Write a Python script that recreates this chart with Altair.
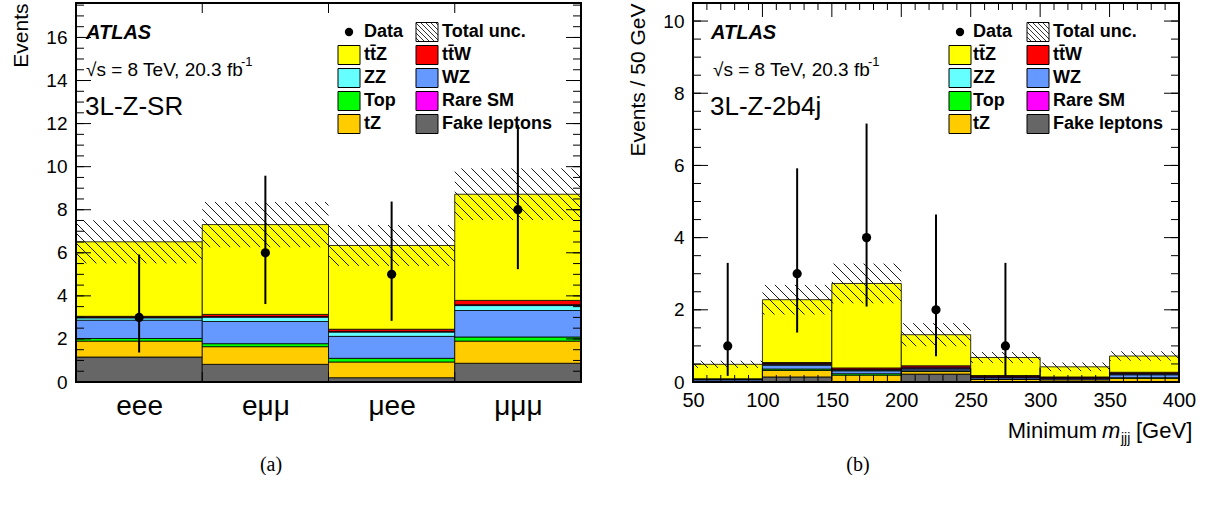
import math
import json
import altair as alt
import pandas as pd

FONT = "Liberation Sans"
SERIF = "Liberation Serif"

# ---------------- data ----------------
# stack order bottom -> top
PROCS = ["Fake leptons", "tZ", "Top", "WZ", "ZZ", "Rare SM", "ttW", "ttZ"]
PROC_COLORS = ["#666666", "#ffcc00", "#00ff00", "#6699ff", "#66ffff", "#ff00ff", "#ff0000", "#ffff00"]

# (a) 3L-Z-SR
sr_labels = ["eee", "eμμ", "μee", "μμμ"]
sr_edges = [0, 1, 2, 3, 4]
sr_fake = [1.16, 0.82, 0.20, 0.87]
sr_tz = [0.74, 0.82, 0.73, 1.03]
sr_top = [0.12, 0.14, 0.17, 0.19]
sr_wz = [0.85, 1.03, 1.02, 1.23]
sr_zz = [0.11, 0.20, 0.20, 0.23]
sr_rare = [0.02, 0.03, 0.03, 0.04]
sr_ttw = [0.05, 0.10, 0.10, 0.20]
sr_ttz = [3.46, 4.17, 3.89, 4.93]
sr_unc = [1.00, 1.05, 0.95, 1.20]
sr_data_x = [0.5, 1.5, 2.5, 3.5]
sr_data = [3, 6, 5, 8]
sr_data_lo = [1.37, 3.62, 2.84, 5.24]
sr_data_hi = [5.92, 9.58, 8.38, 11.94]

# (b) 3L-Z-2b4j, minimum m_jjj
mj_edges = [50, 100, 150, 200, 250, 300, 350, 400]
mj_fake = [0.00, 0.14, 0.00, 0.22, 0.00, 0.00, 0.00]
mj_tz = [0.02, 0.18, 0.19, 0.07, 0.07, 0.06, 0.10]
mj_top = [0.01, 0.04, 0.04, 0.02, 0.01, 0.00, 0.02]
mj_wz = [0.04, 0.10, 0.08, 0.05, 0.04, 0.03, 0.08]
mj_zz = [0.01, 0.03, 0.02, 0.02, 0.01, 0.01, 0.02]
mj_rare = [0.00, 0.02, 0.02, 0.03, 0.02, 0.02, 0.02]
mj_ttw = [0.01, 0.03, 0.04, 0.04, 0.03, 0.02, 0.03]
mj_ttz = [0.40, 1.74, 2.34, 0.86, 0.50, 0.28, 0.45]
mj_unc = [0.10, 0.41, 0.55, 0.32, 0.15, 0.12, 0.13]
mj_data_x = [75, 125, 175, 225, 275]
mj_data = [1, 3, 4, 2, 1]
mj_data_lo = [0.17, 1.37, 2.09, 0.71, 0.17]
mj_data_hi = [3.30, 5.92, 7.16, 4.64, 3.30]

LEGEND_ROWS = [
    [("Data", "data"), ("Total unc.", "unc")],
    [("tt\u0304Z", "#ffff00"), ("tt\u0304W", "#ff0000")],
    [("ZZ", "#66ffff"), ("WZ", "#6699ff")],
    [("Top", "#00ff00"), ("Rare SM", "#ff00ff")],
    [("tZ", "#ffcc00"), ("Fake leptons", "#666666")],
]

ONE = pd.DataFrame({"k": [0]})


def stack_df(edges, comps):
    rows = []
    for i in range(len(edges) - 1):
        base = 0.0
        for p, vals in zip(PROCS, comps):
            v = vals[i]
            if v <= 0:
                continue
            rows.append(dict(x0=edges[i], x1=edges[i + 1], y0=base, y1=base + v, proc=p))
            base += v
    return pd.DataFrame(rows)


def diag_segments(pxa, pya, pxb, pyb, spacing):
    """lines py = px + c clipped to box (pixel space, y down)"""
    segs = []
    cmin, cmax = pya - pxb, pyb - pxa
    for k in range(math.floor(cmin / spacing), math.ceil(cmax / spacing) + 1):
        c = k * spacing
        xs = max(pxa, pya - c)
        xe = min(pxb, pyb - c)
        if xe - xs > 0.6:
            segs.append((xs, xs + c, xe, xe + c))
    return segs


def hatch_df(edges, totals, unc, xdom, ymax, W, H, spacing=10.0):
    sx = W / (xdom[1] - xdom[0])
    sy = H / ymax
    rows = []
    for i in range(len(totals)):
        lo = max(totals[i] - unc[i], 0.0)
        hi = min(totals[i] + unc[i], ymax)
        pxa = (edges[i] - xdom[0]) * sx
        pxb = (edges[i + 1] - xdom[0]) * sx
        pya = (ymax - hi) * sy
        pyb = (ymax - lo) * sy
        for (a, b, c, d) in diag_segments(pxa, pya, pxb, pyb, spacing):
            rows.append(dict(hx0=xdom[0] + a / sx, hy0=ymax - b / sy,
                             hx1=xdom[0] + c / sx, hy1=ymax - d / sy))
    return pd.DataFrame(rows)


def txt(text, x, y, size, weight="normal", style="normal", align="left",
        baseline="alphabetic", font=FONT):
    return alt.Chart(ONE).mark_text(
        text=text, font=font, fontSize=size, fontWeight=weight, fontStyle=style,
        align=align, baseline=baseline, color="black"
    ).encode(x=alt.value(x), y=alt.value(y))


def box(x0, y0, x1, y1, fill, stroke="black", sw=1.0):
    return alt.Chart(ONE).mark_rect(fill=fill, stroke=stroke, strokeWidth=sw).encode(
        x=alt.value(x0), x2=alt.value(x1), y=alt.value(y0), y2=alt.value(y1))


def seg(x0, y0, x1, y1, sw=1.0):
    return alt.Chart(ONE).mark_rule(color="black", strokeWidth=sw).encode(
        x=alt.value(x0), y=alt.value(y0), x2=alt.value(x1), y2=alt.value(y1))


def legend_layers(cols_box, cols_text, rows_y, bw=22, bh=19):
    layers = []
    for r, row in enumerate(LEGEND_ROWS):
        yc = rows_y[r]
        for c, (label, kind) in enumerate(row):
            bx = cols_box[c]
            if kind == "data":
                layers.append(alt.Chart(ONE).mark_circle(color="black", opacity=1, size=70).encode(
                    x=alt.value(bx + bw / 2), y=alt.value(yc)))
            elif kind == "unc":
                layers.append(box(bx, yc - bh / 2, bx + bw, yc + bh / 2, "white"))
                for (a, b, cc, d) in diag_segments(bx, yc - bh / 2, bx + bw, yc + bh / 2, 5.0):
                    layers.append(seg(a, b, cc, d, 0.8))
            else:
                layers.append(box(bx, yc - bh / 2, bx + bw, yc + bh / 2, kind))
            layers.append(txt(label, cols_text[c], yc, 18, weight="bold", baseline="middle"))
    return layers


def panel(edges, comps, unc, dx, dn, dlo, dhi, W, H, ymax, xaxis, ytitle,
          xmajor, xminor, xmajor_len, annotations):
    xdom = [edges[0], edges[-1]]
    xs = alt.Scale(domain=xdom, nice=False, zero=False)
    ys = alt.Scale(domain=[0, ymax], nice=False, zero=True)
    ymajor = [v for v in range(0, int(ymax) + 1, 2)]
    yminor = [v * 0.5 for v in range(0, int(ymax * 2) + 1)]
    yaxis = alt.Axis(values=ymajor, title=ytitle, titleFont=FONT, titleFontSize=21,
                     titleFontWeight="normal", titleColor="black", titleAnchor="end",
                     titlePadding=14, labelFont=FONT, labelFontSize=19, labelColor="black",
                     labelPadding=9, ticks=False, domain=False, grid=False)

    def X(f):
        return alt.X(f, type="quantitative", scale=xs, axis=xaxis)

    def Y(f):
        return alt.Y(f, type="quantitative", scale=ys, axis=yaxis)

    totals = [sum(c[i] for c in comps) for i in range(len(edges) - 1)]
    sdf = stack_df(edges, comps)
    hdf = hatch_df(edges, totals, unc, xdom, ymax, W, H, 10.0)
    ddf = pd.DataFrame({"xc": dx, "n": dn, "lo": dlo, "hi": dhi})

    bars = alt.Chart(sdf).mark_rect(stroke="black", strokeWidth=0.8).encode(
        x=X("x0"), x2="x1", y=Y("y0"), y2="y1",
        color=alt.Color("proc:N", scale=alt.Scale(domain=PROCS, range=PROC_COLORS), legend=None))
    hatch = alt.Chart(hdf).mark_rule(color="black", strokeWidth=0.9).encode(
        x=X("hx0"), y=Y("hy0"), x2="hx1", y2="hy1")
    err = alt.Chart(ddf).mark_rule(color="black", strokeWidth=2).encode(
        x=X("xc"), y=Y("lo"), y2="hi")
    pts = alt.Chart(ddf).mark_circle(color="black", opacity=1, size=85).encode(
        x=X("xc"), y=Y("n"))

    ymaj_df = pd.DataFrame({"v": ymajor})
    ymin_df = pd.DataFrame({"v": yminor})
    xmaj_df = pd.DataFrame({"v": xmajor})
    xmin_df = pd.DataFrame({"v": xminor})
    tick_layers = []
    for df, L in ((ymaj_df, 15), (ymin_df, 8)):
        tick_layers.append(alt.Chart(df).mark_rule(color="black", strokeWidth=1).encode(
            y=Y("v"), x=alt.value(0), x2=alt.value(L)))
        tick_layers.append(alt.Chart(df).mark_rule(color="black", strokeWidth=1).encode(
            y=Y("v"), x=alt.value(W - L), x2=alt.value(W)))
    for df, L in ((xmaj_df, xmajor_len), (xmin_df, 7)):
        if len(df) == 0:
            continue
        tick_layers.append(alt.Chart(df).mark_rule(color="black", strokeWidth=1).encode(
            x=X("v"), y=alt.value(H - L), y2=alt.value(H)))
        tick_layers.append(alt.Chart(df).mark_rule(color="black", strokeWidth=1).encode(
            x=X("v"), y=alt.value(0), y2=alt.value(L)))

    frame = alt.Chart(ONE).mark_rect(fillOpacity=0, stroke="black", strokeWidth=2).encode(
        x=alt.value(0), x2=alt.value(W), y=alt.value(0), y2=alt.value(H))

    return alt.layer(bars, hatch, err, pts, *tick_layers, frame, *annotations).properties(
        width=W, height=H)


# ---------------- sizes ----------------
WL, HL, YMAX_L = 505, 379, 17.6
WR, HR, YMAX_R = 486, 379, 10.5

xaxis_a = alt.Axis(values=sr_data_x,
                   labelExpr=json.dumps(sr_labels, ensure_ascii=False) + "[floor(datum.value)]",
                   labelFont=FONT, labelFontSize=28, labelColor="black", labelPadding=10,
                   labelOverlap=False, labelFlush=False, ticks=False, domain=False, grid=False,
                   title=None)
xaxis_b = alt.Axis(values=mj_edges, labelFont=FONT, labelFontSize=20, labelColor="black",
                   labelPadding=8, labelOverlap=False, labelFlush=False, ticks=False,
                   domain=False, grid=False, title=None)

rows_y = [29, 52, 75, 98, 121]

# ---------------- panel (a) ----------------
ann_a = [
    txt("ATLAS", 10, 36, 20, weight="bold", style="italic"),
    txt("√s = 8 TeV, 20.3 fb", 10, 73, 19),
    txt("-1", 165, 63, 13),
    txt("3L-Z-SR", 9, 112, 26),
    txt("(a)", 195, 462, 20, align="center", baseline="middle", font=SERIF),
] + legend_layers([262, 340], [288, 366], rows_y)

left = panel(sr_edges, [sr_fake, sr_tz, sr_top, sr_wz, sr_zz, sr_rare, sr_ttw, sr_ttz],
             sr_unc, sr_data_x, sr_data, sr_data_lo, sr_data_hi,
             WL, HL, YMAX_L, xaxis_a, "Events", [1, 2, 3], [], 10, ann_a)

# ---------------- panel (b) ----------------
end = WR + 14
gev_x = end - 57
jjj_x = gev_x - 15
m_x = jjj_x - 19
ann_b = [
    txt("ATLAS", 18, 36, 20, weight="bold", style="italic"),
    txt("√s = 8 TeV, 20.3 fb", 20, 73, 19),
    txt("-1", 175, 63, 13),
    txt("3L-Z-2b4j", 17, 112, 26),
    txt("Minimum", m_x - 5, HR + 56, 22, align="right"),
    txt("m", m_x, HR + 56, 22, style="italic"),
    txt("jjj", jjj_x, HR + 61, 14),
    txt("[GeV]", gev_x, HR + 56, 22),
    txt("(b)", 165, 462, 20, align="center", baseline="middle", font=SERIF),
] + legend_layers([256, 334], [280, 360], rows_y)

mj_minor = [v for v in range(50, 401, 10) if v % 50 != 0]
right = panel(mj_edges, [mj_fake, mj_tz, mj_top, mj_wz, mj_zz, mj_rare, mj_ttw, mj_ttz],
              mj_unc, mj_data_x, mj_data, mj_data_lo, mj_data_hi,
              WR, HR, YMAX_R, xaxis_b, "Events / 50 GeV", mj_edges[1:-1], mj_minor, 14, ann_b)

chart = alt.hconcat(left, right, spacing=45).properties(
    padding={"left": 10, "top": 2, "right": 0, "bottom": 0},
    background="white",
).configure_view(strokeWidth=0)

chart.save("out.html", embed_options={"renderer": "svg", "actions": False})
